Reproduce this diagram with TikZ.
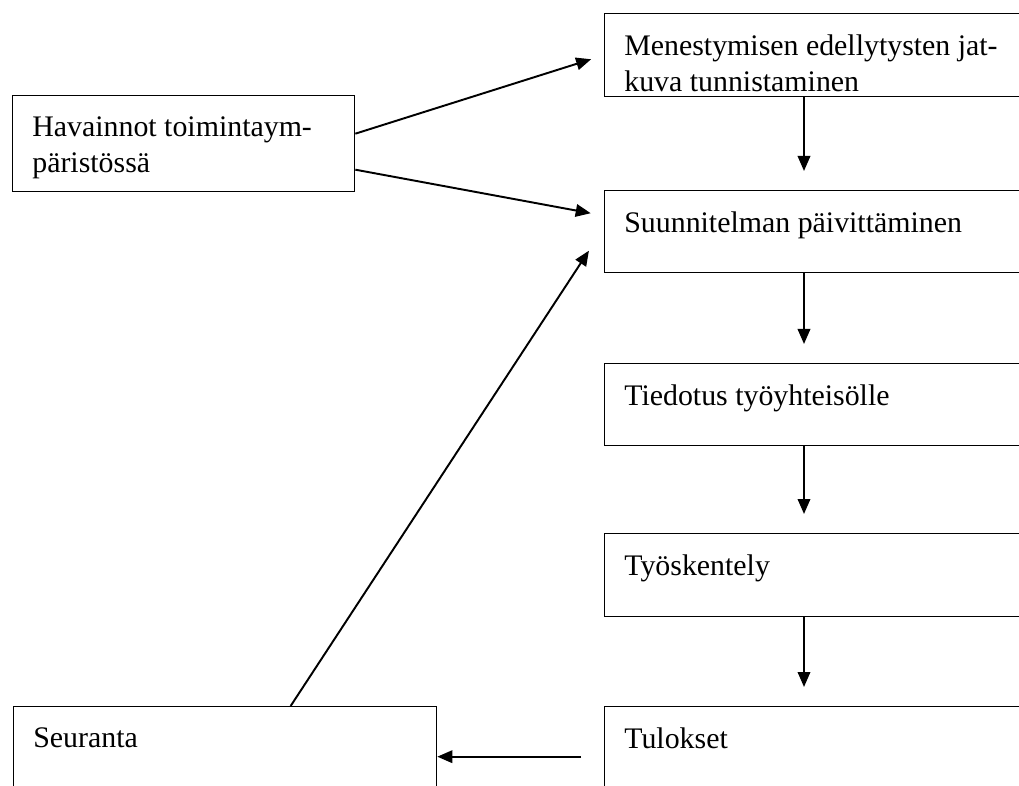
\documentclass[tikz,border=0pt]{standalone}
\usepackage{fontspec}
\setmainfont{Liberation Serif}
\usepackage{tikz}
\usetikzlibrary{arrows.meta, positioning}

\begin{document}
\begin{tikzpicture}[
        x=0.02cm,
        y=-0.02cm,
        stage/.style={draw,line width=0.8pt,anchor=north west,inner sep=0pt,minimum width=8.82cm},
        txt/.style={anchor=north west,inner sep=0pt,xshift=0.4cm,yshift=-0.42cm,align=left,
            font=\fontsize{17}{20.5}\selectfont},
        flow/.style={-{Triangle[length=0.3cm,width=0.25cm]},line width=1.1pt},
        down/.style={flow,shorten >=0.38cm}
    ]
        \useasboundingbox (0,0) rectangle (1019,786);
        \clip (0,0) rectangle (1019,786);
        \coordinate (col) at (804,0);
        % right column
        \node[stage,minimum height=1.66cm,label={[txt]north west:{Menestymisen edellytysten jat-\\kuva tunnistaminen}}] (menestys) at (604,13) {};
        \node[stage,minimum height=1.64cm,label={[txt]north west:{Suunnitelman päivittäminen}}] (paivitys) at (604,190) {};
        \node[stage,minimum height=1.64cm,label={[txt]north west:{Tiedotus työyhteisölle}}] (tiedotus) at (604,363) {};
        \node[stage,minimum height=1.66cm,label={[txt]north west:{Työskentely}}] (tyo) at (604,533) {};
        \node[stage,minimum height=2cm,label={[txt]north west:{Tulokset}}] (tulokset) at (604,706) {};
        % left column
        \node[stage,minimum width=6.84cm,minimum height=1.92cm,label={[txt]north west:{Havainnot toimintaym-\\päristössä}}] (havainnot) at (12,95) {};
        \node[stage,minimum width=8.46cm,minimum height=2cm,label={[txt]north west:{Seuranta}}] (seuranta) at (13,706) {};
        % connectors
        \draw[flow,shorten >=0.27cm] ([yshift=0.2cm]havainnot.east) -- (menestys.west);
        \draw[flow,shorten >=0.27cm] ([yshift=-0.52cm]havainnot.east) -- ([yshift=0.32cm]paivitys.west);
        \draw[down] (menestys.south -| col) -- (paivitys.north -| col);
        \draw[down] (paivitys.south -| col) -- (tiedotus.north -| col);
        \draw[down] (tiedotus.south -| col) -- (tyo.north -| col);
        \draw[down] (tyo.south -| col) -- (tulokset.north -| col);
        \draw[flow,shorten <=0.46cm] (tulokset.west) -- (seuranta.east);
        \draw[flow,shorten >=0.55cm] ([xshift=1.31cm]seuranta.north) -- ([yshift=0.08cm]paivitys.west);
\end{tikzpicture}
\end{document}
